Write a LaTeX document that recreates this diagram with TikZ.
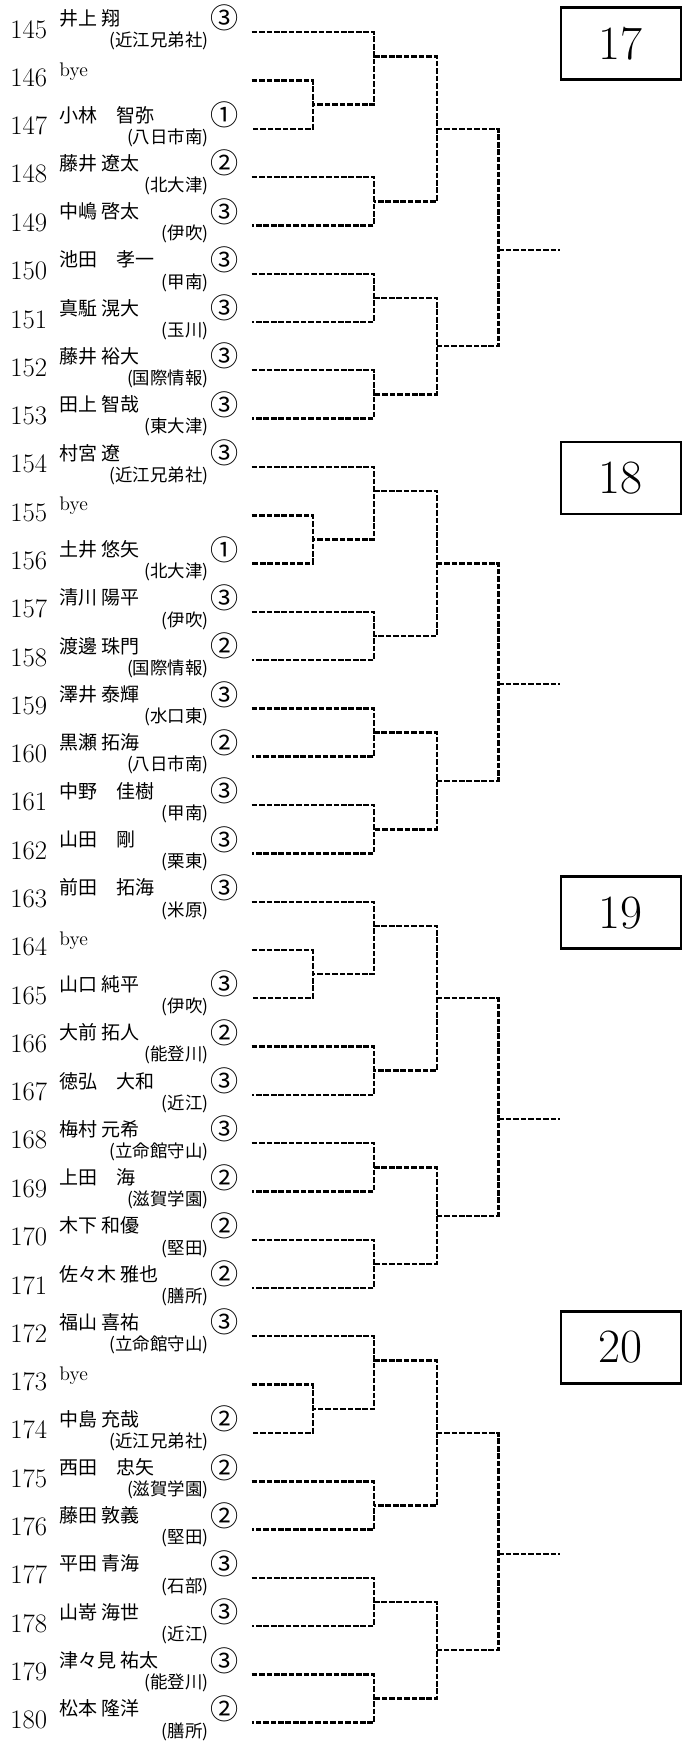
\documentclass[tikz,border=0pt]{standalone}
\usepackage{fontspec}
\usepackage{tikz}
\newfontfamily\jpfont{Noto Sans CJK JP}

\begin{document}
\begin{tikzpicture}[x=1cm,y=1cm,
  num/.style={anchor=base west,inner sep=0pt,font=\fontsize{19}{21}\selectfont},
  player/.style={anchor=base west,inner sep=0pt,font=\jpfont\fontsize{13.5}{15}\selectfont},
  byelabel/.style={anchor=base west,inner sep=0pt,font=\fontsize{14}{16}\selectfont},
  school/.style={anchor=base east,inner sep=0pt,font=\jpfont\fontsize{12.4}{14}\selectfont},
  grade/.style={inner sep=0pt,font=\jpfont\fontsize{20}{22}\selectfont},
  bracket/.style={line width=1.7pt,dash pattern=on 4pt off 1.3pt},
  blockbox/.style={draw,line width=1.8pt,minimum width=3cm,minimum height=1.8cm,inner sep=0pt,font=\fontsize{34}{38}\selectfont}]
\path[use as bounding box] (0,0) rectangle (17.05,43.625);
\node[num] (n145) at (0.25,42.67) {145};
\node[player] (p145) at (1.48,42.99) {井上 翔};
\node[school] (s145) at (5.22,42.46) {(近江兄弟社)};
\node[grade] (g145) at (5.62,43.17) {③};
\coordinate (e145) at (6.29,42.82);
\node[num] (n146) at (0.25,41.46) {146};
\node[byelabel] (p146) at (1.48,41.72) {bye};
\coordinate (e146) at (6.29,41.61);
\node[num] (n147) at (0.25,40.25) {147};
\node[player] (p147) at (1.48,40.57) {小林　智弥};
\node[school] (s147) at (5.22,40.04) {(八日市南)};
\node[grade] (g147) at (5.62,40.75) {①};
\coordinate (e147) at (6.29,40.40);
\node[num] (n148) at (0.25,39.05) {148};
\node[player] (p148) at (1.48,39.37) {藤井 遼太};
\node[school] (s148) at (5.22,38.84) {(北大津)};
\node[grade] (g148) at (5.62,39.55) {②};
\coordinate (e148) at (6.29,39.20);
\node[num] (n149) at (0.25,37.84) {149};
\node[player] (p149) at (1.48,38.16) {中嶋 啓太};
\node[school] (s149) at (5.22,37.63) {(伊吹)};
\node[grade] (g149) at (5.62,38.34) {③};
\coordinate (e149) at (6.29,37.99);
\node[num] (n150) at (0.25,36.63) {150};
\node[player] (p150) at (1.48,36.95) {池田　孝一};
\node[school] (s150) at (5.22,36.42) {(甲南)};
\node[grade] (g150) at (5.62,37.13) {③};
\coordinate (e150) at (6.29,36.78);
\node[num] (n151) at (0.25,35.42) {151};
\node[player] (p151) at (1.48,35.74) {真駈 滉大};
\node[school] (s151) at (5.22,35.21) {(玉川)};
\node[grade] (g151) at (5.62,35.92) {③};
\coordinate (e151) at (6.29,35.57);
\node[num] (n152) at (0.25,34.22) {152};
\node[player] (p152) at (1.48,34.54) {藤井 裕大};
\node[school] (s152) at (5.22,34.01) {(国際情報)};
\node[grade] (g152) at (5.62,34.72) {③};
\coordinate (e152) at (6.29,34.37);
\node[num] (n153) at (0.25,33.01) {153};
\node[player] (p153) at (1.48,33.33) {田上 智哉};
\node[school] (s153) at (5.22,32.80) {(東大津)};
\node[grade] (g153) at (5.62,33.51) {③};
\coordinate (e153) at (6.29,33.16);
\node[num] (n154) at (0.25,31.80) {154};
\node[player] (p154) at (1.48,32.12) {村宮 遼};
\node[school] (s154) at (5.22,31.59) {(近江兄弟社)};
\node[grade] (g154) at (5.62,32.30) {③};
\coordinate (e154) at (6.29,31.95);
\node[num] (n155) at (0.25,30.59) {155};
\node[byelabel] (p155) at (1.48,30.85) {bye};
\coordinate (e155) at (6.29,30.74);
\node[num] (n156) at (0.25,29.39) {156};
\node[player] (p156) at (1.48,29.71) {土井 悠矢};
\node[school] (s156) at (5.22,29.18) {(北大津)};
\node[grade] (g156) at (5.62,29.89) {①};
\coordinate (e156) at (6.29,29.54);
\node[num] (n157) at (0.25,28.18) {157};
\node[player] (p157) at (1.48,28.50) {清川 陽平};
\node[school] (s157) at (5.22,27.97) {(伊吹)};
\node[grade] (g157) at (5.62,28.68) {③};
\coordinate (e157) at (6.29,28.33);
\node[num] (n158) at (0.25,26.97) {158};
\node[player] (p158) at (1.48,27.29) {渡邊 珠門};
\node[school] (s158) at (5.22,26.76) {(国際情報)};
\node[grade] (g158) at (5.62,27.47) {②};
\coordinate (e158) at (6.29,27.12);
\node[num] (n159) at (0.25,25.76) {159};
\node[player] (p159) at (1.48,26.08) {澤井 泰輝};
\node[school] (s159) at (5.22,25.55) {(水口東)};
\node[grade] (g159) at (5.62,26.26) {③};
\coordinate (e159) at (6.29,25.91);
\node[num] (n160) at (0.25,24.56) {160};
\node[player] (p160) at (1.48,24.88) {黒瀬 拓海};
\node[school] (s160) at (5.22,24.35) {(八日市南)};
\node[grade] (g160) at (5.62,25.06) {②};
\coordinate (e160) at (6.29,24.71);
\node[num] (n161) at (0.25,23.35) {161};
\node[player] (p161) at (1.48,23.67) {中野　佳樹};
\node[school] (s161) at (5.22,23.14) {(甲南)};
\node[grade] (g161) at (5.62,23.85) {③};
\coordinate (e161) at (6.29,23.50);
\node[num] (n162) at (0.25,22.14) {162};
\node[player] (p162) at (1.48,22.46) {山田　剛};
\node[school] (s162) at (5.22,21.93) {(栗東)};
\node[grade] (g162) at (5.62,22.64) {③};
\coordinate (e162) at (6.29,22.29);
\node[num] (n163) at (0.25,20.93) {163};
\node[player] (p163) at (1.48,21.25) {前田　拓海};
\node[school] (s163) at (5.22,20.72) {(米原)};
\node[grade] (g163) at (5.62,21.43) {③};
\coordinate (e163) at (6.29,21.08);
\node[num] (n164) at (0.25,19.73) {164};
\node[byelabel] (p164) at (1.48,19.99) {bye};
\coordinate (e164) at (6.29,19.88);
\node[num] (n165) at (0.25,18.52) {165};
\node[player] (p165) at (1.48,18.84) {山口 純平};
\node[school] (s165) at (5.22,18.31) {(伊吹)};
\node[grade] (g165) at (5.62,19.02) {③};
\coordinate (e165) at (6.29,18.67);
\node[num] (n166) at (0.25,17.31) {166};
\node[player] (p166) at (1.48,17.63) {大前 拓人};
\node[school] (s166) at (5.22,17.10) {(能登川)};
\node[grade] (g166) at (5.62,17.81) {②};
\coordinate (e166) at (6.29,17.46);
\node[num] (n167) at (0.25,16.10) {167};
\node[player] (p167) at (1.48,16.42) {徳弘　大和};
\node[school] (s167) at (5.22,15.89) {(近江)};
\node[grade] (g167) at (5.62,16.60) {③};
\coordinate (e167) at (6.29,16.25);
\node[num] (n168) at (0.25,14.90) {168};
\node[player] (p168) at (1.48,15.22) {梅村 元希};
\node[school] (s168) at (5.22,14.69) {(立命館守山)};
\node[grade] (g168) at (5.62,15.40) {③};
\coordinate (e168) at (6.29,15.05);
\node[num] (n169) at (0.25,13.69) {169};
\node[player] (p169) at (1.48,14.01) {上田　海};
\node[school] (s169) at (5.22,13.48) {(滋賀学園)};
\node[grade] (g169) at (5.62,14.19) {②};
\coordinate (e169) at (6.29,13.84);
\node[num] (n170) at (0.25,12.48) {170};
\node[player] (p170) at (1.48,12.80) {木下 和優};
\node[school] (s170) at (5.22,12.27) {(堅田)};
\node[grade] (g170) at (5.62,12.98) {②};
\coordinate (e170) at (6.29,12.63);
\node[num] (n171) at (0.25,11.27) {171};
\node[player] (p171) at (1.48,11.59) {佐々木 雅也};
\node[school] (s171) at (5.22,11.06) {(膳所)};
\node[grade] (g171) at (5.62,11.77) {②};
\coordinate (e171) at (6.29,11.42);
\node[num] (n172) at (0.25,10.07) {172};
\node[player] (p172) at (1.48,10.39) {福山 喜祐};
\node[school] (s172) at (5.22,9.86) {(立命館守山)};
\node[grade] (g172) at (5.62,10.57) {③};
\coordinate (e172) at (6.29,10.22);
\node[num] (n173) at (0.25,8.86) {173};
\node[byelabel] (p173) at (1.48,9.12) {bye};
\coordinate (e173) at (6.29,9.01);
\node[num] (n174) at (0.25,7.65) {174};
\node[player] (p174) at (1.48,7.97) {中島 充哉};
\node[school] (s174) at (5.22,7.44) {(近江兄弟社)};
\node[grade] (g174) at (5.62,8.15) {②};
\coordinate (e174) at (6.29,7.80);
\node[num] (n175) at (0.25,6.44) {175};
\node[player] (p175) at (1.48,6.76) {西田　忠矢};
\node[school] (s175) at (5.22,6.23) {(滋賀学園)};
\node[grade] (g175) at (5.62,6.94) {②};
\coordinate (e175) at (6.29,6.59);
\node[num] (n176) at (0.25,5.24) {176};
\node[player] (p176) at (1.48,5.56) {藤田 敦義};
\node[school] (s176) at (5.22,5.03) {(堅田)};
\node[grade] (g176) at (5.62,5.74) {②};
\coordinate (e176) at (6.29,5.39);
\node[num] (n177) at (0.25,4.03) {177};
\node[player] (p177) at (1.48,4.35) {平田 青海};
\node[school] (s177) at (5.22,3.82) {(石部)};
\node[grade] (g177) at (5.62,4.53) {③};
\coordinate (e177) at (6.29,4.18);
\node[num] (n178) at (0.25,2.82) {178};
\node[player] (p178) at (1.48,3.14) {山嵜 海世};
\node[school] (s178) at (5.22,2.61) {(近江)};
\node[grade] (g178) at (5.62,3.32) {③};
\coordinate (e178) at (6.29,2.97);
\node[num] (n179) at (0.25,1.61) {179};
\node[player] (p179) at (1.48,1.93) {津々見 祐太};
\node[school] (s179) at (5.22,1.40) {(能登川)};
\node[grade] (g179) at (5.62,2.11) {③};
\coordinate (e179) at (6.29,1.76);
\node[num] (n180) at (0.25,0.41) {180};
\node[player] (p180) at (1.48,0.73) {松本 隆洋};
\node[school] (s180) at (5.22,0.20) {(膳所)};
\node[grade] (g180) at (5.62,0.91) {②};
\coordinate (e180) at (6.29,0.56);
\coordinate (j146) at (7.82,41.01);
\coordinate (j145) at (9.35,42.21);
\coordinate (j148) at (9.35,38.59);
\coordinate (j150) at (9.35,36.18);
\coordinate (j152) at (9.35,33.76);
\coordinate (k145) at (10.92,40.40);
\coordinate (k150) at (10.92,34.97);
\coordinate (w17) at (12.46,37.38);
\coordinate (o17) at (14.00,37.38);
\draw[bracket] (e146) -| (j146) |- (e147);
\draw[bracket] (e145) -| (j145) |- (j146);
\draw[bracket] (e148) -| (j148) |- (e149);
\draw[bracket] (e150) -| (j150) |- (e151);
\draw[bracket] (e152) -| (j152) |- (e153);
\draw[bracket] (j145) -| (k145) |- (j148);
\draw[bracket] (j150) -| (k150) |- (j152);
\draw[bracket] (k145) -| (w17) |- (k150);
\draw[bracket] (w17) -- (o17);
\node[blockbox] (b17) at (15.52,42.54) {17};
\coordinate (j155) at (7.82,30.14);
\coordinate (j154) at (9.35,31.35);
\coordinate (j157) at (9.35,27.72);
\coordinate (j159) at (9.35,25.31);
\coordinate (j161) at (9.35,22.89);
\coordinate (k154) at (10.92,29.54);
\coordinate (k159) at (10.92,24.10);
\coordinate (w18) at (12.46,26.52);
\coordinate (o18) at (14.00,26.52);
\draw[bracket] (e155) -| (j155) |- (e156);
\draw[bracket] (e154) -| (j154) |- (j155);
\draw[bracket] (e157) -| (j157) |- (e158);
\draw[bracket] (e159) -| (j159) |- (e160);
\draw[bracket] (e161) -| (j161) |- (e162);
\draw[bracket] (j154) -| (k154) |- (j157);
\draw[bracket] (j159) -| (k159) |- (j161);
\draw[bracket] (k154) -| (w18) |- (k159);
\draw[bracket] (w18) -- (o18);
\node[blockbox] (b18) at (15.52,31.67) {18};
\coordinate (j164) at (7.82,19.27);
\coordinate (j163) at (9.35,20.48);
\coordinate (j166) at (9.35,16.86);
\coordinate (j168) at (9.35,14.44);
\coordinate (j170) at (9.35,12.03);
\coordinate (k163) at (10.92,18.67);
\coordinate (k168) at (10.92,13.23);
\coordinate (w19) at (12.46,15.65);
\coordinate (o19) at (14.00,15.65);
\draw[bracket] (e164) -| (j164) |- (e165);
\draw[bracket] (e163) -| (j163) |- (j164);
\draw[bracket] (e166) -| (j166) |- (e167);
\draw[bracket] (e168) -| (j168) |- (e169);
\draw[bracket] (e170) -| (j170) |- (e171);
\draw[bracket] (j163) -| (k163) |- (j166);
\draw[bracket] (j168) -| (k168) |- (j170);
\draw[bracket] (k163) -| (w19) |- (k168);
\draw[bracket] (w19) -- (o19);
\node[blockbox] (b19) at (15.52,20.81) {19};
\coordinate (j173) at (7.82,8.40);
\coordinate (j172) at (9.35,9.61);
\coordinate (j175) at (9.35,5.99);
\coordinate (j177) at (9.35,3.57);
\coordinate (j179) at (9.35,1.16);
\coordinate (k172) at (10.92,7.80);
\coordinate (k177) at (10.92,2.37);
\coordinate (w20) at (12.46,4.78);
\coordinate (o20) at (14.00,4.78);
\draw[bracket] (e173) -| (j173) |- (e174);
\draw[bracket] (e172) -| (j172) |- (j173);
\draw[bracket] (e175) -| (j175) |- (e176);
\draw[bracket] (e177) -| (j177) |- (e178);
\draw[bracket] (e179) -| (j179) |- (e180);
\draw[bracket] (j172) -| (k172) |- (j175);
\draw[bracket] (j177) -| (k177) |- (j179);
\draw[bracket] (k172) -| (w20) |- (k177);
\draw[bracket] (w20) -- (o20);
\node[blockbox] (b20) at (15.52,9.94) {20};
\end{tikzpicture}
\end{document}
